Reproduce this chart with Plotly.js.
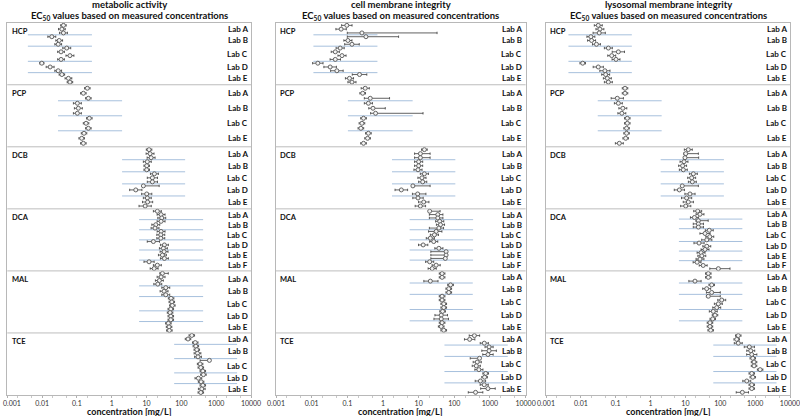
<!DOCTYPE html>
<html><head><meta charset="utf-8">
<script src="https://cdn.plot.ly/plotly-3.0.1.min.js"></script>
<style>html,body{margin:0;padding:0;background:#fff}#chart{width:800px;height:416px}</style>
</head><body><div id="chart"></div>
<script>
const compounds = ["HCP","PCP","DCB","DCA","MAL","TCE"];
const panelTitles = ["metabolic activity","cell membrane integrity","lysosomal membrane integrity"];
const subTitle = "EC<sub>50</sub> values based on measured concentrations";
const tickVals = [0.001,0.01,0.1,1,10,100,1000,10000];
const tickText = ["0.001","0.01","0.1","1","10","100","1000","10000"];
const xTitle = "concentration [mg/L]";

// rows: [lab, EC50 (mg/L), symmetric log error factor]  or  [lab, EC50, lower end, upper end]
const metabHCP = [["A",0.041,1.2],["A",0.037,1.25],["A",0.041,1.3],["B",0.019,1.3],["B",0.031,1.25],["B",0.029,1.25],
  ["C",0.051,1.3],["C",0.035,1.25],["C",0.063,1.3],["C",0.035,1.25],["D",0.0098,1.15],["D",0.017,1.3],["D",0.029,1.25],
  ["E",0.037,1.2],["E",0.057,1.25],["E",0.063,1.2]];
const metabPCP = [["A",0.199,1.2],["A",0.153,1.2],["A",0.213,1.2],["B",0.103,1.3],["B",0.110,1.3],["B",0.103,1.3],
  ["C",0.227,1.2],["C",0.183,1.2],["C",0.213,1.2],["E",0.160,1.2],["E",0.137,1.2],["E",0.153,1.2]];
const metabDCB = [["A",11.8,1.2],["A",12.6,1.3],["A",13.5,1.3],["B",10.5,1.3],["B",10.1,1.2],["B",10.1,1.2],
  ["C",16.8,1.3],["C",14.7,1.4],["C",14.7,1.4],["D",8.1,7.8,23],["D",4.9,1.5],["D",10.1,1.4],
  ["E",10.5,1.3],["E",10.7,1.4],["E",9.1,1.5]];
const metabDCA = [["A",20.4,1.3],["A",26.1,1.3],["A",27.3,1.3],["B",26.1,1.3],["B",18.4,1.3],["B",17.5,1.3],
  ["C",26.1,1.3],["C",25.6,1.3],["C",25.6,1.3],["D",15.7,1.5],["D",32.5,1.3],["D",30.4,1.3],
  ["E",31.8,1.3],["E",28.5,1.3],["E",32.5,1.3],["F",11.8,1.4],["F",20.4,1.3],["F",16.5,1.3]];
const metabMAL = [["A",28.5,24,42],["A",26.1,1.3],["A",23.3,1.3],["A",21,1.3],["B",35.6,1.3],["B",31.8,1.3],["B",35.6,1.3],
  ["C",50.6,1.2],["C",53,1.2],["C",55,1.2],["C",49.6,1.2],["D",47.3,1.2],["D",49.6,1.2],["D",49.6,1.2],
  ["E",42.3,1.2],["E",44.3,1.2],["E",45.2,1.2]];
const metabTCE = [["A",199,1.2],["A",155,1.2],["A",250,1.2],["B",260,1.2],["B",277,1.2],["B",290,1.25],["B",300,1.25],
  ["C",638,345,660],["C",345,1.2],["C",361,1.2],["C",412,1.2],["D",429,1.2],["D",308,1.25],["D",368,1.2],
  ["E",412,1.2],["E",385,1.25],["E",361,1.2]];

const cellHCP = [["A",0.097,1.4],["A",0.067,1.4],["A",0.257,0.1,32.9],["B",0.333,0.1,2.74],["B",0.104,1.3],["B",0.135,1.6],
  ["C",0.063,1.3],["C",0.046,1.3],["C",0.071,1.3],["C",0.046,1.4],["D",0.0149,1.4],["D",0.033,1.5],["D",0.051,1.5],
  ["E",0.22,1.6],["E",0.115,1.3],["E",0.135,1.3]];
const cellPCP = [["A",0.318,1.3],["A",0.27,1.2],["A",0.44,0.3,1.53],["B",0.39,1.3],["B",0.525,0.4,1.16],["B",0.62,0.45,13.3],
  ["C",0.285,1.2],["C",0.257,1.2],["C",0.24,1.2],["E",0.39,1.2],["E",0.37,1.2],["E",0.285,1.2]];
const cellDCB = [["A",14.5,1.2],["A",11.2,7.7,21],["A",11.2,7.7,21],["B",10,1.3],["B",10,1.3],["B",9.6,1.3],
  ["C",14.5,1.3],["C",12.4,1.3],["C",13,1.3],["D",6.9,6.5,21],["D",3.27,1.5],["D",9.4,6.7,16],
  ["E",9.6,1.4],["E",13.9,1.4],["E",11.2,1.4]];
const cellDCA = [["A",20.4,20,40],["A",34.5,20,48],["A",34.5,20,48],["B",39,1.3],["B",41,1.3],["B",37,20,50],
  ["C",31,19,45],["C",27.7,1.3],["C",21.3,1.3],["D",26.5,1.3],["D",13.4,1.35],["D",37,1.3],
  ["E",59,22,62],["E",59,22,62],["E",56,22,60],["F",20.4,1.3],["F",31,1.3],["F",24,1.3]];
const cellMAL = [["A",45.5,1.2],["A",45.5,1.2],["A",21.3,14,35],["B",78.6,1.2],["B",70,1.2],["B",70,1.2],
  ["C",45.5,1.2],["C",45.5,1.2],["C",50.6,1.2],["C",50.6,1.2],["D",47,1.2],["D",43,1.5],["D",43,1.6],
  ["E",45.5,1.2],["E",43,1.2],["E",50.6,1.2]];
const cellTCE = [["A",367,1.4],["A",270,1.4],["A",694,1.3],["B",946,1.3],["B",946,1.6],["B",880,1.4],
  ["C",511,280,540],["C",440,1.3],["C",414,1.3],["C",490,1.3],["D",760,1.2],["D",707,1.2],["D",540,1.4],
  ["E",690,1.3],["E",880,1.6],["E",395,1.6]];

const lysoHCP = [["A",0.0316,1.3],["A",0.0352,1.3],["A",0.0336,1.5],["B",0.0194,1.3],["B",0.0203,1.3],["B",0.028,1.3],
  ["C",0.0615,1.3],["C",0.119,1.5],["C",0.0768,1.3],["C",0.102,1.3],["D",0.0113,1.2],["D",0.0316,1.4],["D",0.049,1.4],
  ["E",0.0515,1.3],["E",0.0575,1.3],["E",0.0615,1.3]];
const lysoPCP = [["A",0.185,1.2],["A",0.185,1.2],["A",0.111,1.5],["B",0.119,1.3],["B",0.16,1.3],["B",0.15,1.3],
  ["C",0.215,1.2],["C",0.215,1.2],["C",0.205,1.2],["E",0.205,1.2],["E",0.193,1.2],["E",0.127,1.3]];
const lysoDCB = [["A",12.1,1.3],["A",10.2,9,23.5],["A",9.7,9,24],["B",9.1,1.3],["B",8.3,1.3],["B",8.7,1.3],
  ["C",16.9,1.3],["C",15.1,1.3],["C",15.8,1.3],["D",8.1,7.8,23.5],["D",6.7,1.4],["D",13.5,1.4],
  ["E",10.8,1.4],["E",12.1,1.4],["E",10.2,1.4]];
const lysoDCA = [["A",22.5,1.3],["A",26.2,1.3],["A",18.1,1.3],["B",23.5,20,45],["B",23.5,1.4],["B",23.5,1.4],
  ["C",48.3,1.3],["C",36.5,1.4],["C",50,1.3],["C",41,1.4],["D",24.6,1.4],["D",41,1.3],["D",36.5,1.3],
  ["E",28.1,1.3],["E",29.5,1.3],["E",26.2,1.3],["F",21.6,1.3],["F",32.3,1.3],["F",88,50,190]];
const lysoMAL = [["A",45.3,1.2],["A",45.3,1.2],["A",18.8,1.5],["B",56.7,1.2],["B",40.7,1.3],["B",56.7,40,100],
  ["C",45.3,40,100],["C",110,1.3],["C",88,1.3],["C",79,1.3],["D",63,1.3],["D",70.6,1.2],["D",60.7,1.2],
  ["E",50.6,1.2],["E",50.6,1.2],["E",53,1.2]];
const lysoTCE = [["A",328,1.2],["A",296,1.2],["A",328,1.3],["B",682,1.4],["B",748,1.3],["B",800,1.4],
  ["C",855,1.2],["C",930,1.2],["C",930,1.2],["C",1390,1.2],["D",800,1.2],["D",855,1.2],["D",575,1.3],
  ["E",800,1.2],["E",800,1.2],["E",430,1.5]];

// light-blue lab separator extents per compound [from, to]
const metabSep = [[0.0039,0.27],[0.0286,1.98],[1.98,128],[6.1,421],[6.1,421],[62,3980]];
const cellSep  = [[0.0112,0.70],[0.104,6.8],[1.79,107],[5.6,337],[5.6,330],[53,3160]];
const lysoSep  = [[0.0044,0.29],[0.0305,2.08],[1.95,127],[6.5,430],[6.5,430],[63,4100]];

const panels = [
  {data:[metabHCP,metabPCP,metabDCB,metabDCA,metabMAL,metabTCE], sep:metabSep},
  {data:[cellHCP,cellPCP,cellDCB,cellDCA,cellMAL,cellTCE], sep:cellSep},
  {data:[lysoHCP,lysoPCP,lysoDCB,lysoDCA,lysoMAL,lysoTCE], sep:lysoSep}
];

const FONT = "Lato, 'Open Sans', sans-serif";
const xDomains = [[0.0091,0.3138],[0.345,0.657],[0.6825,0.9875]];
const yDomain = [0.0505,0.9454];
const traces = [], shapes = [], annotations = [];
const layout = {width:800,height:416,margin:{l:0,r:0,t:0,b:0},paper_bgcolor:"#fff",plot_bgcolor:"#fff",
  showlegend:false,font:{family:FONT,color:"#222"}};

panels.forEach((p,pi)=>{
  const sx = pi===0?"":String(pi+1);
  const xa="x"+sx, ya="y"+sx;
  const px=[],py=[],plus=[],minus=[],bx=[],by=[];
  p.data.forEach((rows,b)=>{
    const n=rows.length;
    const ys=rows.map((r,i)=>b+(i+0.7)/(n+0.4));
    const labYs={};
    rows.forEach((r,i)=>{
      const v=r[1]; let lo,hi;
      if(r.length===3){lo=v/r[2];hi=v*r[2];}else{lo=r[2];hi=r[3];}
      px.push(v);py.push(ys[i]);plus.push(hi-v);minus.push(v-lo);
      (labYs[r[0]]=labYs[r[0]]||[]).push(ys[i]);
      if(i<n-1 && rows[i+1][0]!==r[0]){
        const yy=(ys[i]+ys[i+1])/2;
        bx.push(p.sep[b][0],p.sep[b][1],null);by.push(yy,yy,null);
      }
    });
    Object.keys(labYs).forEach(l=>{
      const a=labYs[l];const m=a.reduce((s,v)=>s+v,0)/a.length;
      annotations.push({xref:xa+" domain",yref:ya,x:0.995,y:m,xanchor:"right",yanchor:"middle",
        text:"<b>Lab "+l+"</b>",showarrow:false,font:{size:8,family:FONT,color:"#111"}});
    });
    annotations.push({xref:xa+" domain",yref:ya,x:0.01,y:b+0.03,xanchor:"left",yanchor:"top",
      text:"<b>"+compounds[b]+"</b>",showarrow:false,font:{size:7.5,family:FONT,color:"#111"}});
    if(b>0) shapes.push({type:"line",xref:xa+" domain",yref:ya,x0:0,x1:1,y0:b,y1:b,line:{color:"#bdbdbd",width:1}});
  });
  traces.push({type:"scatter",mode:"lines",x:bx,y:by,xaxis:xa,yaxis:ya,line:{color:"#a7c0dd",width:1},hoverinfo:"skip",connectgaps:false});
  traces.push({type:"scatter",mode:"markers",x:px,y:py,xaxis:xa,yaxis:ya,
    marker:{symbol:"circle",size:4,color:"#f4f4f4",line:{color:"#555",width:0.9}},
    error_x:{type:"data",symmetric:false,array:plus,arrayminus:minus,color:"#3a3a3a",thickness:0.8,width:1.2}});
  // the left-most panel's first label would fall off the page; it is drawn as an annotation instead
  const tt = pi===0 ? [""].concat(tickText.slice(1)) : tickText;
  layout["xaxis"+sx]={domain:xDomains[pi],anchor:ya,type:"log",range:[-3,4],tickmode:"array",tickvals:tickVals,ticktext:tt,
    tickfont:{size:7,family:FONT,color:"#333"},ticks:"outside",ticklen:2,tickcolor:"#b0b0b0",ticklabeloverflow:"allow",
    ticklabelstandoff:0,
    showline:true,mirror:true,linecolor:"#b8b8b8",linewidth:1,showgrid:false,zeroline:false,
    minor:{ticks:"outside",ticklen:2,tickcolor:"#c8c8c8",showgrid:false}};
  layout["yaxis"+sx]={domain:yDomain,anchor:xa,range:[6,0],showticklabels:false,ticks:"",showgrid:false,zeroline:false,
    showline:true,mirror:true,linecolor:"#b8b8b8",linewidth:1};
  const cx=(xDomains[pi][0]+xDomains[pi][1])/2;
  annotations.push({xref:"paper",yref:"paper",x:cx,y:1-4.5/416,xanchor:"center",yanchor:"middle",
    text:"<b>"+panelTitles[pi]+"</b>",showarrow:false,font:{size:9.5,family:FONT,color:"#111"}});
  annotations.push({xref:"paper",yref:"paper",x:cx,y:1-15.5/416,xanchor:"center",yanchor:"middle",
    text:"<b>"+subTitle+"</b>",showarrow:false,font:{size:9.5,family:FONT,color:"#111"}});
  annotations.push({xref:"paper",yref:"paper",x:cx,y:1-411.5/416,xanchor:"center",yanchor:"middle",
    text:"<b>"+xTitle+"</b>",showarrow:false,font:{size:9,family:FONT,color:"#111"}});
});
annotations.push({xref:"paper",yref:"paper",x:1/800,y:1-403/416,xanchor:"left",yanchor:"middle",
  text:tickText[0],showarrow:false,font:{size:7,family:FONT,color:"#333"}});
layout.shapes=shapes;layout.annotations=annotations;
Plotly.newPlot("chart",traces,layout,{staticPlot:true,displayModeBar:false});
</script></body></html>
